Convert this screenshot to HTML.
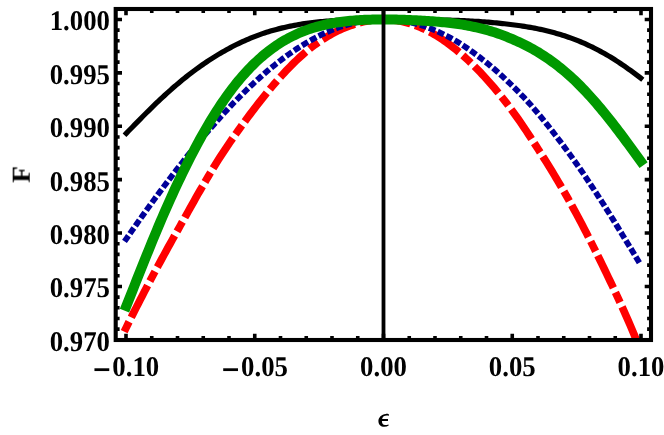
<!DOCTYPE html>
<html><head><meta charset="utf-8"><title>F vs epsilon</title>
<style>
html,body{margin:0;padding:0;background:#fff;}
body{width:664px;height:435px;overflow:hidden;}
svg{display:block;}
text{font-family:"Liberation Serif",serif;font-weight:bold;font-size:26.8px;fill:#000;text-rendering:geometricPrecision;}
</style></head><body>
<svg width="664" height="435" viewBox="0 0 664 435">
<rect width="664" height="435" fill="#fff"/>
<defs><clipPath id="c"><rect x="115.7" y="9.0" width="535.3" height="331.0"/></clipPath></defs>
<g clip-path="url(#c)" fill="none" stroke-linejoin="round">
<path d="M124.50,135.19 L126.50,133.12 L128.50,131.06 L130.50,129.00 L132.50,126.94 L134.50,124.89 L136.50,122.85 L138.50,120.82 L140.50,118.80 L142.50,116.78 L144.50,114.78 L146.50,112.78 L148.50,110.79 L150.50,108.82 L152.50,106.86 L154.50,104.92 L156.50,102.99 L158.50,101.09 L160.50,99.20 L162.50,97.34 L164.50,95.49 L166.50,93.67 L168.50,91.86 L170.50,90.08 L172.50,88.32 L174.50,86.58 L176.50,84.87 L178.50,83.18 L180.50,81.51 L182.50,79.86 L184.50,78.24 L186.50,76.65 L188.50,75.07 L190.50,73.52 L192.50,72.00 L194.50,70.50 L196.50,69.02 L198.50,67.57 L200.50,66.15 L202.50,64.75 L204.50,63.37 L206.50,62.02 L208.50,60.69 L210.50,59.39 L212.50,58.11 L214.50,56.85 L216.50,55.61 L218.50,54.40 L220.50,53.21 L222.50,52.05 L224.50,50.91 L226.50,49.79 L228.50,48.69 L230.50,47.62 L232.50,46.57 L234.50,45.55 L236.50,44.54 L238.50,43.57 L240.50,42.61 L242.50,41.68 L244.50,40.77 L246.50,39.89 L248.50,39.03 L250.50,38.19 L252.50,37.38 L254.50,36.59 L256.50,35.82 L258.50,35.08 L260.50,34.36 L262.50,33.66 L264.50,32.99 L266.50,32.34 L268.50,31.71 L270.50,31.10 L272.50,30.51 L274.50,29.95 L276.50,29.41 L278.50,28.89 L280.50,28.38 L282.50,27.90 L284.50,27.43 L286.50,26.97 L288.50,26.54 L290.50,26.12 L292.50,25.72 L294.50,25.33 L296.50,24.96 L298.50,24.61 L300.50,24.27 L302.50,23.94 L304.50,23.63 L306.50,23.34 L308.50,23.06 L310.50,22.79 L312.50,22.54 L314.50,22.30 L316.50,22.07 L318.50,21.86 L320.50,21.66 L322.50,21.47 L324.50,21.30 L326.50,21.13 L328.50,20.98 L330.50,20.84 L332.50,20.71 L334.50,20.59 L336.50,20.47 L338.50,20.37 L340.50,20.27 L342.50,20.18 L344.50,20.09 L346.50,20.02 L348.50,19.94 L350.50,19.88 L352.50,19.82 L354.50,19.77 L356.50,19.72 L358.50,19.67 L360.50,19.64 L362.50,19.60 L364.50,19.57 L366.50,19.54 L368.50,19.52 L370.50,19.50 L372.50,19.49 L374.50,19.47 L376.50,19.46 L378.50,19.46 L380.50,19.45 L382.50,19.45 L384.50,19.45 L386.50,19.45 L388.50,19.46 L390.50,19.46 L392.50,19.47 L394.50,19.48 L396.50,19.49 L398.50,19.50 L400.50,19.51 L402.50,19.53 L404.50,19.54 L406.50,19.56 L408.50,19.57 L410.50,19.59 L412.50,19.61 L414.50,19.63 L416.50,19.65 L418.50,19.67 L420.50,19.69 L422.50,19.71 L424.50,19.74 L426.50,19.76 L428.50,19.78 L430.50,19.81 L432.50,19.84 L434.50,19.86 L436.50,19.89 L438.50,19.92 L440.50,19.95 L442.50,19.99 L444.50,20.03 L446.50,20.08 L448.50,20.13 L450.50,20.19 L452.50,20.25 L454.50,20.32 L456.50,20.39 L458.50,20.47 L460.50,20.55 L462.50,20.63 L464.50,20.72 L466.50,20.82 L468.50,20.92 L470.50,21.02 L472.50,21.13 L474.50,21.24 L476.50,21.35 L478.50,21.47 L480.50,21.60 L482.50,21.73 L484.50,21.88 L486.50,22.03 L488.50,22.19 L490.50,22.37 L492.50,22.55 L494.50,22.74 L496.50,22.93 L498.50,23.13 L500.50,23.34 L502.50,23.56 L504.50,23.78 L506.50,24.01 L508.50,24.25 L510.50,24.48 L512.50,24.73 L514.50,24.98 L516.50,25.24 L518.50,25.52 L520.50,25.80 L522.50,26.10 L524.50,26.41 L526.50,26.73 L528.50,27.07 L530.50,27.42 L532.50,27.78 L534.50,28.16 L536.50,28.56 L538.50,28.97 L540.50,29.39 L542.50,29.83 L544.50,30.29 L546.50,30.76 L548.50,31.25 L550.50,31.76 L552.50,32.29 L554.50,32.83 L556.50,33.40 L558.50,33.98 L560.50,34.58 L562.50,35.21 L564.50,35.85 L566.50,36.51 L568.50,37.20 L570.50,37.91 L572.50,38.64 L574.50,39.39 L576.50,40.16 L578.50,40.96 L580.50,41.78 L582.50,42.62 L584.50,43.49 L586.50,44.39 L588.50,45.30 L590.50,46.25 L592.50,47.21 L594.50,48.21 L596.50,49.23 L598.50,50.27 L600.50,51.34 L602.50,52.44 L604.50,53.55 L606.50,54.70 L608.50,55.87 L610.50,57.07 L612.50,58.30 L614.50,59.55 L616.50,60.83 L618.50,62.14 L620.50,63.48 L622.50,64.84 L624.50,66.21 L626.50,67.60 L628.50,69.01 L630.50,70.44 L632.50,71.88 L634.50,73.35 L636.50,74.85 L638.50,76.37 L640.50,77.91 L642.50,79.49 L642.80,79.72" stroke="#000" stroke-width="5.2"/>
<path d="M124.20,331.67 L126.20,327.60 L128.20,323.55 L130.20,319.53 L132.20,315.54 L134.20,311.56 L136.20,307.61 L138.20,303.69 L140.20,299.78 L142.20,295.90 L144.20,292.04 L146.20,288.20 L148.20,284.37 L150.20,280.57 L152.20,276.79 L154.20,273.03 L156.20,269.28 L158.20,265.56 L160.20,261.85 L162.20,258.16 L164.20,254.49 L166.20,250.84 L168.20,247.20 L170.20,243.58 L172.20,239.98 L174.20,236.40 L176.20,232.83 L178.20,229.28 L180.20,225.75 L182.20,222.20 L184.20,218.64 L186.20,215.07 L188.20,211.49 L190.20,207.90 L192.20,204.33 L194.20,200.77 L196.20,197.24 L198.20,193.73 L200.20,190.26 L202.20,186.81 L204.20,183.35 L206.20,179.91 L208.20,176.49 L210.20,173.10 L212.20,169.75 L214.20,166.44 L216.20,163.19 L218.20,160.01 L220.20,156.90 L222.20,153.83 L224.20,150.80 L226.20,147.80 L228.20,144.84 L230.20,141.92 L232.20,139.02 L234.20,136.15 L236.20,133.32 L238.20,130.51 L240.20,127.72 L242.20,124.96 L244.20,122.23 L246.20,119.51 L248.20,116.82 L250.20,114.14 L252.20,111.48 L254.20,108.84 L256.20,106.22 L258.20,103.63 L260.20,101.07 L262.20,98.54 L264.20,96.04 L266.20,93.57 L268.20,91.13 L270.20,88.73 L272.20,86.35 L274.20,84.01 L276.20,81.70 L278.20,79.43 L280.20,77.19 L282.20,74.99 L284.20,72.83 L286.20,70.70 L288.20,68.61 L290.20,66.56 L292.20,64.55 L294.20,62.57 L296.20,60.64 L298.20,58.75 L300.20,56.90 L302.20,55.10 L304.20,53.35 L306.20,51.65 L308.20,50.00 L310.20,48.40 L312.20,46.85 L314.20,45.34 L316.20,43.88 L318.20,42.47 L320.20,41.09 L322.20,39.76 L324.20,38.48 L326.20,37.23 L328.20,36.02 L330.20,34.85 L332.20,33.73 L334.20,32.66 L336.20,31.64 L338.20,30.67 L340.20,29.74 L342.20,28.86 L344.20,28.03 L346.20,27.23 L348.20,26.47 L350.20,25.76 L352.20,25.07 L354.20,24.42 L356.20,23.80 L358.20,23.21 L360.20,22.65 L362.20,22.12 L364.20,21.65 L366.20,21.21 L368.20,20.83 L370.20,20.49 L372.20,20.20 L374.20,19.96 L376.20,19.76 L378.20,19.62 L380.20,19.51 L382.20,19.46 L384.20,19.45 L386.20,19.49 L388.20,19.58 L390.20,19.71 L392.20,19.90 L394.20,20.12 L396.20,20.40 L398.20,20.72 L400.20,21.09 L402.20,21.51 L404.20,21.97 L406.20,22.48 L408.20,23.03 L410.20,23.63 L412.20,24.28 L414.20,24.97 L416.20,25.71 L418.20,26.50 L420.20,27.33 L422.20,28.20 L424.20,29.12 L426.20,30.09 L428.20,31.10 L430.20,32.15 L432.20,33.25 L434.20,34.40 L436.20,35.58 L438.20,36.81 L440.20,38.08 L442.20,39.40 L444.20,40.76 L446.20,42.16 L448.20,43.61 L450.20,45.09 L452.20,46.62 L454.20,48.19 L456.20,49.80 L458.20,51.45 L460.20,53.14 L462.20,54.87 L464.20,56.65 L466.20,58.46 L468.20,60.31 L470.20,62.20 L472.20,64.13 L474.20,66.09 L476.20,68.10 L478.20,70.14 L480.20,72.23 L482.20,74.34 L484.20,76.50 L486.20,78.69 L488.20,80.92 L490.20,83.18 L492.20,85.49 L494.20,87.82 L496.20,90.19 L498.20,92.60 L500.20,95.04 L502.20,97.53 L504.20,100.07 L506.20,102.66 L508.20,105.29 L510.20,107.97 L512.20,110.69 L514.20,113.44 L516.20,116.24 L518.20,119.06 L520.20,121.91 L522.20,124.81 L524.20,127.76 L526.20,130.76 L528.20,133.79 L530.20,136.86 L532.20,139.95 L534.20,143.05 L536.20,146.17 L538.20,149.28 L540.20,152.39 L542.20,155.51 L544.20,158.66 L546.20,161.84 L548.20,165.05 L550.20,168.30 L552.20,171.57 L554.20,174.88 L556.20,178.21 L558.20,181.58 L560.20,184.98 L562.20,188.42 L564.20,191.89 L566.20,195.41 L568.20,198.96 L570.20,202.55 L572.20,206.18 L574.20,209.84 L576.20,213.54 L578.20,217.27 L580.20,221.04 L582.20,224.84 L584.20,228.68 L586.20,232.55 L588.20,236.45 L590.20,240.39 L592.20,244.36 L594.20,248.35 L596.20,252.39 L598.20,256.45 L600.20,260.54 L602.20,264.65 L604.20,268.77 L606.20,272.91 L608.20,277.07 L610.20,281.26 L612.20,285.48 L614.20,289.73 L616.20,294.03 L618.20,298.38 L620.20,302.78 L622.20,307.19 L624.20,311.62 L626.20,316.07 L628.20,320.59 L630.20,325.19 L632.20,329.92 L634.20,334.79 L636.20,339.75 L638.20,344.78 L640.20,349.88 L642.20,355.03 L642.80,356.59" stroke="#ff0000" stroke-width="7.6" stroke-dasharray="11 4.9 35.9 4.9"/>
<path d="M124.50,241.47 L126.50,238.57 L128.50,235.68 L130.50,232.80 L132.50,229.93 L134.50,227.08 L136.50,224.23 L138.50,221.40 L140.50,218.57 L142.50,215.76 L144.50,212.96 L146.50,210.17 L148.50,207.39 L150.50,204.63 L152.50,201.88 L154.50,199.14 L156.50,196.41 L158.50,193.70 L160.50,191.00 L162.50,188.31 L164.50,185.63 L166.50,182.97 L168.50,180.33 L170.50,177.69 L172.50,175.07 L174.50,172.47 L176.50,169.88 L178.50,167.31 L180.50,164.75 L182.50,162.20 L184.50,159.67 L186.50,157.16 L188.50,154.66 L190.50,152.18 L192.50,149.71 L194.50,147.26 L196.50,144.83 L198.50,142.41 L200.50,140.01 L202.50,137.63 L204.50,135.26 L206.50,132.92 L208.50,130.59 L210.50,128.27 L212.50,125.98 L214.50,123.71 L216.50,121.45 L218.50,119.21 L220.50,117.00 L222.50,114.80 L224.50,112.62 L226.50,110.46 L228.50,108.32 L230.50,106.20 L232.50,104.10 L234.50,102.03 L236.50,99.97 L238.50,97.93 L240.50,95.92 L242.50,93.93 L244.50,91.95 L246.50,90.00 L248.50,88.08 L250.50,86.17 L252.50,84.29 L254.50,82.43 L256.50,80.60 L258.50,78.78 L260.50,76.99 L262.50,75.23 L264.50,73.48 L266.50,71.77 L268.50,70.07 L270.50,68.40 L272.50,66.76 L274.50,65.14 L276.50,63.54 L278.50,61.97 L280.50,60.43 L282.50,58.91 L284.50,57.42 L286.50,55.95 L288.50,54.51 L290.50,53.10 L292.50,51.71 L294.50,50.35 L296.50,49.02 L298.50,47.71 L300.50,46.43 L302.50,45.18 L304.50,43.96 L306.50,42.76 L308.50,41.60 L310.50,40.46 L312.50,39.35 L314.50,38.26 L316.50,37.21 L318.50,36.18 L320.50,35.19 L322.50,34.22 L324.50,33.28 L326.50,32.38 L328.50,31.50 L330.50,30.65 L332.50,29.83 L334.50,29.04 L336.50,28.29 L338.50,27.56 L340.50,26.86 L342.50,26.19 L344.50,25.56 L346.50,24.95 L348.50,24.38 L350.50,23.83 L352.50,23.32 L354.50,22.84 L356.50,22.39 L358.50,21.97 L360.50,21.59 L362.50,21.23 L364.50,20.91 L366.50,20.62 L368.50,20.36 L370.50,20.14 L372.50,19.94 L374.50,19.78 L376.50,19.65 L378.50,19.55 L380.50,19.49 L382.50,19.45 L384.50,19.45 L386.50,19.49 L388.50,19.55 L390.50,19.65 L392.50,19.78 L394.50,19.94 L396.50,20.14 L398.50,20.37 L400.50,20.63 L402.50,20.93 L404.50,21.26 L406.50,21.62 L408.50,22.01 L410.50,22.44 L412.50,22.90 L414.50,23.39 L416.50,23.92 L418.50,24.48 L420.50,25.07 L422.50,25.70 L424.50,26.36 L426.50,27.05 L428.50,27.77 L430.50,28.53 L432.50,29.32 L434.50,30.14 L436.50,31.00 L438.50,31.89 L440.50,32.81 L442.50,33.76 L444.50,34.75 L446.50,35.77 L448.50,36.82 L450.50,37.91 L452.50,39.02 L454.50,40.17 L456.50,41.35 L458.50,42.57 L460.50,43.81 L462.50,45.09 L464.50,46.40 L466.50,47.74 L468.50,49.11 L470.50,50.52 L472.50,51.94 L474.50,53.40 L476.50,54.87 L478.50,56.37 L480.50,57.90 L482.50,59.45 L484.50,61.02 L486.50,62.63 L488.50,64.25 L490.50,65.91 L492.50,67.59 L494.50,69.30 L496.50,71.03 L498.50,72.80 L500.50,74.59 L502.50,76.41 L504.50,78.26 L506.50,80.14 L508.50,82.05 L510.50,83.99 L512.50,85.95 L514.50,87.91 L516.50,89.90 L518.50,91.91 L520.50,93.94 L522.50,96.01 L524.50,98.11 L526.50,100.25 L528.50,102.44 L530.50,104.68 L532.50,106.97 L534.50,109.30 L536.50,111.66 L538.50,114.04 L540.50,116.44 L542.50,118.87 L544.50,121.33 L546.50,123.81 L548.50,126.31 L550.50,128.84 L552.50,131.39 L554.50,133.97 L556.50,136.57 L558.50,139.19 L560.50,141.83 L562.50,144.50 L564.50,147.19 L566.50,149.90 L568.50,152.63 L570.50,155.38 L572.50,158.15 L574.50,160.95 L576.50,163.76 L578.50,166.61 L580.50,169.49 L582.50,172.40 L584.50,175.33 L586.50,178.30 L588.50,181.29 L590.50,184.30 L592.50,187.33 L594.50,190.39 L596.50,193.46 L598.50,196.56 L600.50,199.67 L602.50,202.79 L604.50,205.93 L606.50,209.08 L608.50,212.24 L610.50,215.44 L612.50,218.65 L614.50,221.88 L616.50,225.13 L618.50,228.39 L620.50,231.65 L622.50,234.91 L624.50,238.18 L626.50,241.46 L628.50,244.74 L630.50,248.03 L632.50,251.33 L634.50,254.63 L636.50,257.94 L638.50,261.25 L639.90,263.58" stroke="#000099" stroke-width="5.8" stroke-dasharray="6.93 2.575"/>
<path d="M124.50,310.71 L126.50,305.68 L128.50,300.64 L130.50,295.60 L132.50,290.55 L134.50,285.51 L136.50,280.46 L138.50,275.43 L140.50,270.41 L142.50,265.40 L144.50,260.41 L146.50,255.45 L148.50,250.51 L150.50,245.59 L152.50,240.71 L154.50,235.87 L156.50,231.06 L158.50,226.29 L160.50,221.56 L162.50,216.89 L164.50,212.26 L166.50,207.69 L168.50,203.18 L170.50,198.72 L172.50,194.31 L174.50,189.96 L176.50,185.66 L178.50,181.42 L180.50,177.23 L182.50,173.10 L184.50,169.02 L186.50,164.99 L188.50,161.02 L190.50,157.10 L192.50,153.23 L194.50,149.41 L196.50,145.65 L198.50,141.93 L200.50,138.27 L202.50,134.66 L204.50,131.12 L206.50,127.64 L208.50,124.22 L210.50,120.87 L212.50,117.59 L214.50,114.37 L216.50,111.22 L218.50,108.13 L220.50,105.10 L222.50,102.14 L224.50,99.25 L226.50,96.42 L228.50,93.65 L230.50,90.95 L232.50,88.32 L234.50,85.74 L236.50,83.23 L238.50,80.79 L240.50,78.40 L242.50,76.08 L244.50,73.82 L246.50,71.62 L248.50,69.48 L250.50,67.40 L252.50,65.37 L254.50,63.41 L256.50,61.50 L258.50,59.66 L260.50,57.86 L262.50,56.12 L264.50,54.44 L266.50,52.81 L268.50,51.23 L270.50,49.71 L272.50,48.23 L274.50,46.81 L276.50,45.44 L278.50,44.11 L280.50,42.83 L282.50,41.60 L284.50,40.42 L286.50,39.27 L288.50,38.18 L290.50,37.12 L292.50,36.11 L294.50,35.14 L296.50,34.21 L298.50,33.31 L300.50,32.46 L302.50,31.64 L304.50,30.86 L306.50,30.12 L308.50,29.41 L310.50,28.73 L312.50,28.08 L314.50,27.47 L316.50,26.88 L318.50,26.33 L320.50,25.81 L322.50,25.31 L324.50,24.84 L326.50,24.40 L328.50,23.98 L330.50,23.58 L332.50,23.21 L334.50,22.86 L336.50,22.54 L338.50,22.23 L340.50,21.95 L342.50,21.68 L344.50,21.43 L346.50,21.21 L348.50,20.99 L350.50,20.80 L352.50,20.62 L354.50,20.46 L356.50,20.31 L358.50,20.17 L360.50,20.05 L362.50,19.94 L364.50,19.85 L366.50,19.76 L368.50,19.69 L370.50,19.63 L372.50,19.58 L374.50,19.53 L376.50,19.50 L378.50,19.47 L380.50,19.46 L382.50,19.45 L384.50,19.45 L386.50,19.46 L388.50,19.47 L390.50,19.49 L392.50,19.52 L394.50,19.56 L396.50,19.60 L398.50,19.65 L400.50,19.70 L402.50,19.76 L404.50,19.82 L406.50,19.89 L408.50,19.97 L410.50,20.05 L412.50,20.14 L414.50,20.23 L416.50,20.33 L418.50,20.43 L420.50,20.54 L422.50,20.65 L424.50,20.77 L426.50,20.90 L428.50,21.03 L430.50,21.17 L432.50,21.32 L434.50,21.47 L436.50,21.64 L438.50,21.80 L440.50,21.98 L442.50,22.16 L444.50,22.36 L446.50,22.56 L448.50,22.77 L450.50,22.99 L452.50,23.22 L454.50,23.48 L456.50,23.75 L458.50,24.04 L460.50,24.35 L462.50,24.67 L464.50,25.01 L466.50,25.37 L468.50,25.75 L470.50,26.15 L472.50,26.56 L474.50,26.99 L476.50,27.44 L478.50,27.91 L480.50,28.39 L482.50,28.89 L484.50,29.41 L486.50,29.95 L488.50,30.51 L490.50,31.08 L492.50,31.69 L494.50,32.32 L496.50,32.99 L498.50,33.68 L500.50,34.40 L502.50,35.15 L504.50,35.92 L506.50,36.72 L508.50,37.53 L510.50,38.37 L512.50,39.22 L514.50,40.10 L516.50,40.98 L518.50,41.88 L520.50,42.80 L522.50,43.74 L524.50,44.71 L526.50,45.71 L528.50,46.74 L530.50,47.81 L532.50,48.91 L534.50,50.04 L536.50,51.21 L538.50,52.41 L540.50,53.65 L542.50,54.92 L544.50,56.23 L546.50,57.57 L548.50,58.96 L550.50,60.38 L552.50,61.83 L554.50,63.32 L556.50,64.83 L558.50,66.38 L560.50,67.97 L562.50,69.59 L564.50,71.25 L566.50,72.95 L568.50,74.70 L570.50,76.48 L572.50,78.32 L574.50,80.20 L576.50,82.13 L578.50,84.10 L580.50,86.11 L582.50,88.16 L584.50,90.25 L586.50,92.38 L588.50,94.54 L590.50,96.74 L592.50,98.98 L594.50,101.26 L596.50,103.57 L598.50,105.91 L600.50,108.28 L602.50,110.69 L604.50,113.12 L606.50,115.59 L608.50,118.08 L610.50,120.61 L612.50,123.16 L614.50,125.73 L616.50,128.34 L618.50,130.97 L620.50,133.62 L622.50,136.29 L624.50,138.99 L626.50,141.69 L628.50,144.41 L630.50,147.15 L632.50,149.89 L634.50,152.63 L636.50,155.39 L638.50,158.14 L640.50,160.89 L642.50,163.65 L643.60,165.16" stroke="#009900" stroke-width="10"/>
</g>
<path d="M383.5,9.0 V340.0" stroke="#000" stroke-width="3.8" fill="none"/>
<path d="M126.00,340.0 v-6.3 M126.00,9.0 v6.3 M151.75,340.0 v-3.9 M151.75,9.0 v3.9 M177.50,340.0 v-3.9 M177.50,9.0 v3.9 M203.25,340.0 v-3.9 M203.25,9.0 v3.9 M229.00,340.0 v-3.9 M229.00,9.0 v3.9 M254.75,340.0 v-6.3 M254.75,9.0 v6.3 M280.50,340.0 v-3.9 M280.50,9.0 v3.9 M306.25,340.0 v-3.9 M306.25,9.0 v3.9 M332.00,340.0 v-3.9 M332.00,9.0 v3.9 M357.75,340.0 v-3.9 M357.75,9.0 v3.9 M383.50,340.0 v-6.3 M383.50,9.0 v6.3 M409.25,340.0 v-3.9 M409.25,9.0 v3.9 M435.00,340.0 v-3.9 M435.00,9.0 v3.9 M460.75,340.0 v-3.9 M460.75,9.0 v3.9 M486.50,340.0 v-3.9 M486.50,9.0 v3.9 M512.25,340.0 v-6.3 M512.25,9.0 v6.3 M538.00,340.0 v-3.9 M538.00,9.0 v3.9 M563.75,340.0 v-3.9 M563.75,9.0 v3.9 M589.50,340.0 v-3.9 M589.50,9.0 v3.9 M615.25,340.0 v-3.9 M615.25,9.0 v3.9 M641.00,340.0 v-6.3 M641.00,9.0 v6.3 M115.7,19.45 h6.3 M651.0,19.45 h-6.3 M115.7,30.13 h3.9 M651.0,30.13 h-3.9 M115.7,40.81 h3.9 M651.0,40.81 h-3.9 M115.7,51.49 h3.9 M651.0,51.49 h-3.9 M115.7,62.17 h3.9 M651.0,62.17 h-3.9 M115.7,72.85 h6.3 M651.0,72.85 h-6.3 M115.7,83.53 h3.9 M651.0,83.53 h-3.9 M115.7,94.21 h3.9 M651.0,94.21 h-3.9 M115.7,104.89 h3.9 M651.0,104.89 h-3.9 M115.7,115.57 h3.9 M651.0,115.57 h-3.9 M115.7,126.25 h6.3 M651.0,126.25 h-6.3 M115.7,136.93 h3.9 M651.0,136.93 h-3.9 M115.7,147.61 h3.9 M651.0,147.61 h-3.9 M115.7,158.29 h3.9 M651.0,158.29 h-3.9 M115.7,168.97 h3.9 M651.0,168.97 h-3.9 M115.7,179.65 h6.3 M651.0,179.65 h-6.3 M115.7,190.33 h3.9 M651.0,190.33 h-3.9 M115.7,201.01 h3.9 M651.0,201.01 h-3.9 M115.7,211.69 h3.9 M651.0,211.69 h-3.9 M115.7,222.37 h3.9 M651.0,222.37 h-3.9 M115.7,233.05 h6.3 M651.0,233.05 h-6.3 M115.7,243.73 h3.9 M651.0,243.73 h-3.9 M115.7,254.41 h3.9 M651.0,254.41 h-3.9 M115.7,265.09 h3.9 M651.0,265.09 h-3.9 M115.7,275.77 h3.9 M651.0,275.77 h-3.9 M115.7,286.45 h6.3 M651.0,286.45 h-6.3 M115.7,297.13 h3.9 M651.0,297.13 h-3.9 M115.7,307.81 h3.9 M651.0,307.81 h-3.9 M115.7,318.49 h3.9 M651.0,318.49 h-3.9 M115.7,329.17 h3.9 M651.0,329.17 h-3.9" stroke="#000" stroke-width="3.6" fill="none"/>
<rect x="115.7" y="9.0" width="535.3" height="331.0" fill="none" stroke="#000" stroke-width="4.1"/>
<g opacity="0.999">
<text transform="translate(110.00,30.45) scale(1,1.065)" text-anchor="end">1.000</text>
<text transform="translate(110.00,83.85) scale(1,1.065)" text-anchor="end">0.995</text>
<text transform="translate(110.00,137.25) scale(1,1.065)" text-anchor="end">0.990</text>
<text transform="translate(110.00,190.65) scale(1,1.065)" text-anchor="end">0.985</text>
<text transform="translate(110.00,244.05) scale(1,1.065)" text-anchor="end">0.980</text>
<text transform="translate(110.00,297.45) scale(1,1.065)" text-anchor="end">0.975</text>
<text transform="translate(110.00,350.85) scale(1,1.065)" text-anchor="end">0.970</text>
<text transform="translate(112.30,376.40) scale(1,1.065)" text-anchor="start">0.10</text>
<text transform="translate(92.72,382.5) scale(1.19,1.5)">−</text>
<text transform="translate(241.05,376.40) scale(1,1.065)" text-anchor="start">0.05</text>
<text transform="translate(221.47,382.5) scale(1.19,1.5)">−</text>
<text transform="translate(383.50,376.40) scale(1,1.065)" text-anchor="middle">0.00</text>
<text transform="translate(512.25,376.40) scale(1,1.065)" text-anchor="middle">0.05</text>
<text transform="translate(641.00,376.40) scale(1,1.065)" text-anchor="middle">0.10</text>
<text transform="translate(29.50,174.50) rotate(-90) scale(1,0.95)" text-anchor="middle" style="font-size:27.3px">F</text>
<path d="M388.9,414.2 C387.9,413.9 386.8,413.8 385.8,413.9 C381.5,414.3 378.4,417.4 378.4,421.0 C378.4,424.6 380.8,426.8 384.3,426.8 C386.0,426.8 387.5,426.4 388.7,425.6 L388.5,424.5 C387.3,424.95 386.2,425.1 385.1,425.1 C383.0,425.1 382.0,423.6 381.9,421.0 L388.0,421.0 L388.0,419.0 L382.1,419.0 C382.5,416.6 384.3,415.5 386.9,415.5 C387.5,415.5 388.1,415.6 388.7,415.9 Z" fill="#000"/>
</g>
</svg>
</body></html>
